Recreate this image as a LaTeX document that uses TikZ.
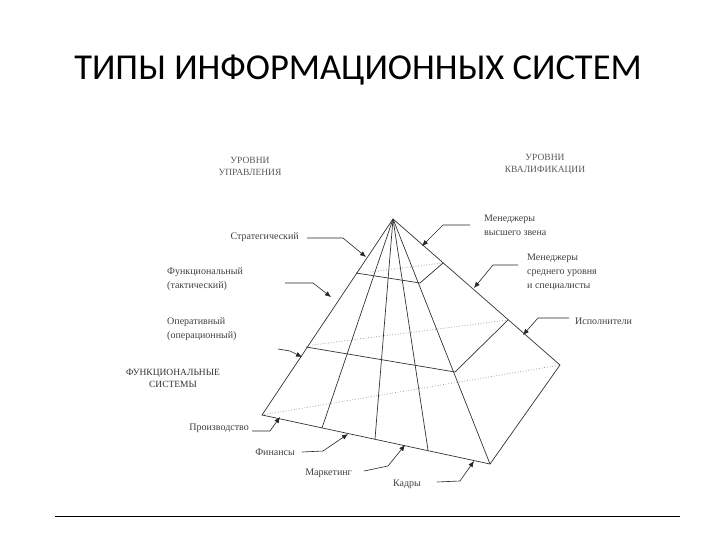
\documentclass[tikz,border=0pt]{standalone}
\usepackage{fontspec}
\usetikzlibrary{arrows.meta}
\setmainfont{Liberation Serif}
\newfontfamily\titlefont{Carlito}
\begin{document}
\begin{tikzpicture}[x=1pt,y=-1pt,
  lbl/.style={font=\fontsize{10}{14}\selectfont, text=black!75, inner sep=0pt, align=left},
  hdr/.style={font=\fontsize{9.5}{12}\selectfont, text=black!65, inner sep=0pt, align=center},
  edge/.style={draw=black!80, line width=0.7pt},
  back/.style={draw=black!45, dotted, line width=0.7pt},
  lead/.style={draw=black!85, line width=0.6pt, -{Latex[length=6pt,width=5pt]}}]
\path[use as bounding box, fill=white] (0,0) rectangle (720,540);
\node[font=\titlefont\fontsize{36.5}{40}\selectfont] (title) at (358,70) {ТИПЫ ИНФОРМАЦИОННЫХ СИСТЕМ};
\coordinate (r1) at (55,516); \coordinate (r2) at (680,516);
\draw[line width=0.8pt] (r1) -- (r2);
% pyramid
\coordinate (A) at (393,219);
\coordinate (L) at (262,415);
\coordinate (F) at (490,464);
\coordinate (R) at (560,365);
\coordinate (b1) at (322,428); \coordinate (b2) at (375,439); \coordinate (b3) at (428,450);
\coordinate (p1) at (356,273); \coordinate (q1) at (420,283); \coordinate (s1) at (443,263);
\coordinate (p2) at (306,347); \coordinate (q2) at (455,372); \coordinate (s2) at (508,320);
\draw[back] (370,272) -- (s1);
\draw[back] (312,345) -- (s2);
\draw[back] (L) -- (R);
\draw[edge] (A) -- (L) -- (F) -- (R) -- cycle;
\draw[edge] (A) -- (F);
\draw[edge] (A) -- (b1); \draw[edge] (A) -- (b2); \draw[edge] (A) -- (b3);
\draw[edge] (p1) -- (q1) -- (s1);
\draw[edge] (p2) -- (q2) -- (s2);
% headers
\node[hdr] (h1) at (250,166) {УРОВНИ\\УПРАВЛЕНИЯ};
\node[hdr] (h2) at (545,164) {УРОВНИ\\КВАЛИФИКАЦИИ};
\node[hdr, text=black!80] (h3) at (173,378) {ФУНКЦИОНАЛЬНЫЕ\\СИСТЕМЫ};
% left labels
\node[lbl, anchor=east] (strat) at (299,237) {Стратегический};
\draw[lead] (307,238) -- (343,238) -- (366,257);
\node[lbl, anchor=west] (func) at (167,279) {Функциональный\\(тактический)};
\draw[lead] (285,283) -- (313,283) -- (331,297);
\node[lbl, anchor=west] (oper) at (167,329) {Оперативный\\(операционный)};
\draw[lead] (278,349) -- (290,351) -- (302,357);
\node[lbl, anchor=east] (prod) at (249,428) {Производство};
\draw[lead] (252,431) -- (270,431) -- (280,417);
\node[lbl, anchor=east] (fin) at (295,452) {Финансы};
\draw[lead] (302,452) -- (323,451) -- (348,434);
\node[lbl, anchor=east] (mark) at (352,473) {Маркетинг};
\draw[lead] (364,471) -- (388,466) -- (405,445);
\node[lbl, anchor=east] (kad) at (421,484) {Кадры};
\draw[lead] (437,482) -- (460,481) -- (474,461);
% right labels
\node[lbl, anchor=west] (top) at (484,225) {Менеджеры\\высшего звена};
\draw[lead] (470,225) -- (443,225) -- (422,246);
\node[lbl, anchor=west] (mid) at (527,272) {Менеджеры\\среднего уровня\\и специалисты};
\draw[lead] (518,265) -- (493,265) -- (474,288);
\node[lbl, anchor=west] (isp) at (575,321) {Исполнители};
\draw[lead] (569,318) -- (538,318) -- (523,335);
\end{tikzpicture}
\end{document}
